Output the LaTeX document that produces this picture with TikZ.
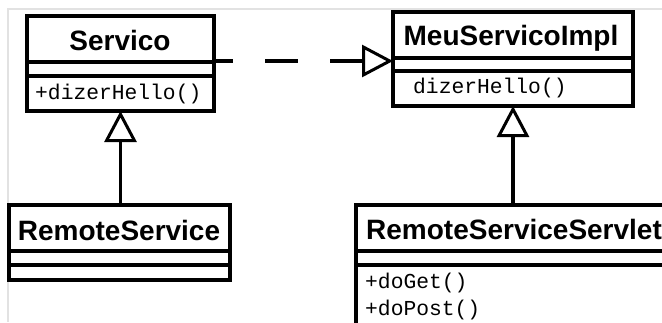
\documentclass[tikz,border=0pt]{standalone}
\usepackage{fontspec}
\setmainfont{Liberation Sans}
\setmonofont{Liberation Mono}
\usetikzlibrary{arrows.meta}
\definecolor{framegray}{HTML}{E2E2E2}
\tikzset{
  classbox/.style={draw, line width=3.4pt, inner sep=0pt, outer sep=0pt, anchor=north west, fill=white},
  divider/.style={line width=3.2pt},
  cname/.style={font=\bfseries\fontsize{28}{32}\selectfont, inner sep=0pt, anchor=base},
  member/.style={font=\ttfamily\fontsize{21.3}{25}\selectfont, inner sep=0pt, anchor=base west},
  inherit/.style={line width=3.4pt, -{Triangle[open, length=31pt, width=32pt, line width=3pt]}},
  realize/.style={line width=3.4pt, dash pattern=on 33pt off 32pt, dash phase=14pt, -{Triangle[open, length=31pt, width=32pt, line width=3pt]}},
}
\begin{document}
\begin{tikzpicture}[x=1pt,y=-1pt]
\clip (0,0) rectangle (662,322);
\fill[white] (0,0) rectangle (662,322);
\draw[framegray, line width=1.2pt] (8,322) -- (8,9) -- (662,9);

% Servico
\node[classbox, minimum width=187pt, minimum height=95pt] (srv) at (27,16) {};
\draw[divider] (srv.west |- 0,62) -- (srv.east |- 0,62);
\draw[divider] (srv.west |- 0,76) -- (srv.east |- 0,76);
\node[cname] (srvname) at (120,50) {Servico};
\node[member] (srvm) at (35,99) {+dizerHello()};

% MeuServicoImpl
\node[classbox, minimum width=240pt, minimum height=94pt] (impl) at (393,12) {};
\draw[divider] (impl.west |- 0,58) -- (impl.east |- 0,58);
\draw[divider] (impl.west |- 0,71) -- (impl.east |- 0,71);
\node[cname] (implname) at (511,45) {MeuServicoImpl};
\node[member] (implm) at (413,93) {dizerHello()};

% RemoteService
\node[classbox, minimum width=221pt, minimum height=75pt] (rs) at (9,205) {};
\draw[divider] (rs.west |- 0,251) -- (rs.east |- 0,251);
\draw[divider] (rs.west |- 0,265) -- (rs.east |- 0,265);
\node[cname] (rsname) at (119,240) {RemoteService};

% RemoteServiceServlet
\node[classbox, minimum width=330pt, minimum height=140pt] (rss) at (356,205) {};
\draw[divider] (rss.west |- 0,251) -- (rss.east |- 0,251);
\draw[divider] (rss.west |- 0,265) -- (rss.east |- 0,265);
\node[cname, anchor=base west] (rssname) at (366,239) {RemoteServiceServlet};
\node[member] (rssm1) at (365,288) {+doGet()};
\node[member] (rssm2) at (365,315) {+doPost()};

% connectors
\draw[inherit] (srv.south |- rs.north) -- (srv.south);
\draw[inherit] (impl.south |- rss.north) -- (impl.south);
\draw[realize] (srv.east |- 0,61) -- (impl.west |- 0,61);
\end{tikzpicture}
\end{document}
